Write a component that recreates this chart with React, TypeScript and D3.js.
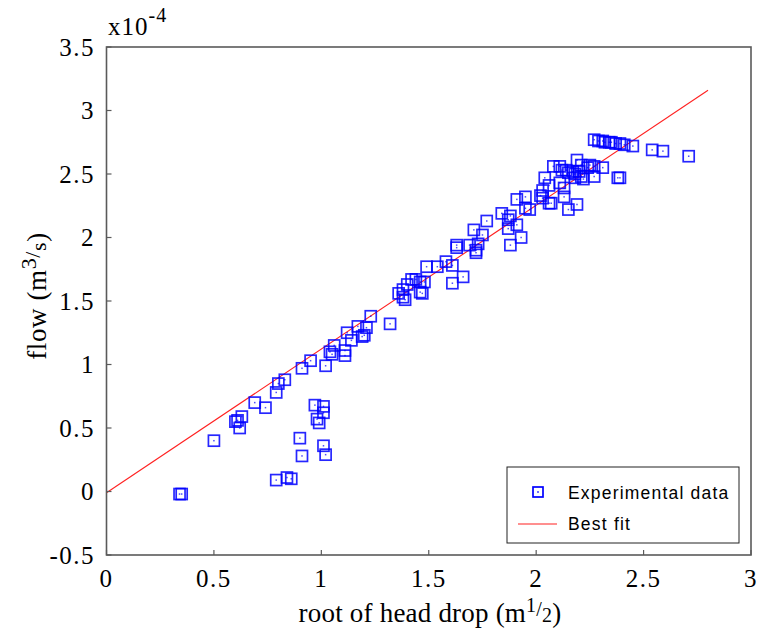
import React from "react";
import * as d3 from "d3";

// Measured flow vs. square root of head drop (flow in units of 1e-4 m^3/s)
const headRoot: number[] = [
  0.34, 0.35, 0.50, 0.60, 0.61, 0.62, 0.63, 0.69, 0.74, 0.79, 0.80, 0.83,
  0.90, 0.91, 0.79, 0.84, 0.86, 0.97, 1.01, 1.01, 0.98, 0.99, 1.01, 1.02,
  0.91, 0.95, 1.02, 1.04, 1.05, 1.06, 1.11, 1.11, 1.12, 1.14, 1.17, 1.19,
  1.20, 1.21, 1.23, 1.32, 1.36, 1.38, 1.40, 1.39, 1.38, 1.42, 1.44, 1.46,
  1.46, 1.47, 1.48, 1.49, 1.54, 1.58, 1.61, 1.61, 1.66,
  1.63, 1.63, 1.69, 1.71, 1.72, 1.72, 1.75, 1.73, 1.77, 1.84, 1.87, 1.88,
  1.87, 1.91, 1.88, 1.93, 1.91, 1.95, 1.95, 1.97, 2.02, 2.03, 2.03, 2.06,
  2.07, 2.04, 2.08, 2.06, 2.11, 2.13, 2.13, 2.15, 2.19, 2.11, 2.12, 2.15,
  2.14, 2.17, 2.18, 2.20, 2.21, 2.18, 2.22, 2.21, 2.24, 2.25, 2.27, 2.27,
  2.19, 2.31, 2.38, 2.39,
  2.27, 2.29, 2.31, 2.32, 2.34, 2.35, 2.37, 2.39, 2.41, 2.45, 2.54, 2.59,
  2.71,
];
const flow: number[] = [
  -0.02, -0.02, 0.40, 0.55, 0.56, 0.50, 0.59, 0.70, 0.66, 0.78, 0.85, 0.88,
  0.42, 0.28, 0.09, 0.11, 0.10, 0.68, 0.67, 0.62, 0.57, 0.54, 0.36, 0.29,
  0.97, 1.03, 0.99, 1.10, 1.08, 1.15, 1.11, 1.07, 1.25, 1.19, 1.30, 1.22,
  1.23, 1.29, 1.38, 1.32, 1.56, 1.59, 1.63, 1.51, 1.53, 1.67, 1.67, 1.65,
  1.57, 1.56, 1.65, 1.77, 1.77, 1.81, 1.78, 1.64, 1.69,
  1.92, 1.94, 1.94, 2.06, 1.90, 1.88, 2.02, 1.95, 2.13, 2.19, 2.14, 2.17,
  2.07, 2.10, 1.94, 2.00, 2.30, 2.32, 2.23, 2.22, 2.33, 2.37, 2.31, 2.27,
  2.27, 2.47, 2.56, 2.41, 2.43, 2.39, 2.32, 2.22, 2.26, 2.56, 2.53, 2.51,
  2.53, 2.52, 2.50, 2.52, 2.48, 2.47, 2.46, 2.57, 2.55, 2.57, 2.56, 2.48,
  2.61, 2.55, 2.47, 2.47,
  2.77, 2.76, 2.76, 2.75, 2.75, 2.75, 2.74, 2.74, 2.73, 2.72, 2.69, 2.68,
  2.64,
];

// Best-fit line end points
const fitX: number[] = [0, 2.8];
const fitY: number[] = [-0.01, 3.16];

const xTicks: number[] = [0, 0.5, 1, 1.5, 2, 2.5, 3];
const yTicks: number[] = [-0.5, 0, 0.5, 1, 1.5, 2, 2.5, 3, 3.5];

const W = 762;
const H = 634;
const left = 106.5;
const right = 751;
const top = 47;
const bottom = 555;

export default function App() {
  const x = d3.scaleLinear().domain([0, 3]).range([left, right]);
  const y = d3.scaleLinear().domain([-0.5, 3.5]).range([bottom, top]);

  const points = headRoot.map((h, i) => ({ h, q: flow[i] }));
  const fit = fitX.map((v, i) => [v, fitY[i]] as [number, number]);
  const line = d3
    .line<[number, number]>()
    .x((d) => x(d[0]))
    .y((d) => y(d[1]));

  const serif = "'Liberation Serif', 'Times New Roman', serif";
  const sans = "'Liberation Sans', Arial, sans-serif";
  const frame = "#5a5a5a";
  const blue = "#0000ff";
  const s = 11;

  return (
    <svg
      width={W}
      height={H}
      style={{ position: "absolute", left: 0, top: 0, background: "#fff" }}
    >
      <rect x={0} y={0} width={W} height={H} fill="#fff" />

      {/* best fit */}
      <path d={line(fit) || ""} fill="none" stroke="#ff2020" strokeWidth={1.1} />

      {/* measurements */}
      {points.map((p, i) => (
        <g key={i}>
          <rect
            x={x(p.h) - s / 2}
            y={y(p.q) - s / 2}
            width={s}
            height={s}
            fill="none"
            stroke={blue}
            strokeOpacity={0.85}
            strokeWidth={1.7}
          />
          <rect
            x={x(p.h) - 0.75}
            y={y(p.q) - 0.75}
            width={1.5}
            height={1.5}
            fill={blue}
            fillOpacity={0.7}
          />
        </g>
      ))}

      {/* frame */}
      <rect
        x={left}
        y={top}
        width={right - left}
        height={bottom - top}
        fill="none"
        stroke={frame}
        strokeWidth={1.6}
      />

      {/* x ticks */}
      {xTicks.map((t) => (
        <g key={"x" + t}>
          <line x1={x(t)} x2={x(t)} y1={bottom} y2={bottom - 5} stroke={frame} strokeWidth={1.2} />
          <text
            x={x(t)}
            y={587}
            textAnchor="middle"
            fontFamily={serif}
            fontSize={25}
            letterSpacing={1.5}
            fill="#000"
          >
            {String(t)}
          </text>
        </g>
      ))}

      {/* y ticks */}
      {yTicks.map((t) => (
        <g key={"y" + t}>
          <line x1={left} x2={left + 5} y1={y(t)} y2={y(t)} stroke={frame} strokeWidth={1.2} />
          <text
            x={95}
            y={y(t) + 8.5}
            textAnchor="end"
            fontFamily={serif}
            fontSize={25}
            letterSpacing={1.5}
            fill="#000"
          >
            {t === -0.5 ? "-0.5" : String(t)}
          </text>
        </g>
      ))}

      {/* exponent */}
      <text x={108} y={35} fontFamily={serif} fontSize={25} letterSpacing={1} fill="#000">
        x10
        <tspan dy={-13} fontSize={20}>-4</tspan>
      </text>

      {/* axis titles */}
      <text
        x={430}
        y={622}
        textAnchor="middle"
        fontFamily={serif}
        fontSize={27}
        letterSpacing={0.2}
        fill="#000"
      >
        root of head drop (m
        <tspan dy={-10} fontSize={20}>1</tspan>
        <tspan dy={4} fontSize={20}>/</tspan>
        <tspan dy={6} fontSize={20}>2</tspan>
        <tspan dy={0}>)</tspan>
      </text>

      <text
        transform="translate(46,296) rotate(-90)"
        textAnchor="middle"
        fontFamily={serif}
        fontSize={27}
        letterSpacing={0.6}
        fill="#000"
      >
        flow (m
        <tspan dy={-10} fontSize={22}>3</tspan>
        <tspan dy={4} fontSize={22}>/</tspan>
        <tspan dy={6} fontSize={22}>s</tspan>
        <tspan dy={0}>)</tspan>
      </text>

      {/* legend */}
      <g>
        <rect x={507} y={467} width={232} height={76} fill="#fff" stroke="#222" strokeWidth={1} />
        <rect x={538 - 5} y={492 - 5} width={10} height={10} fill="none" stroke={blue} strokeWidth={1.7} />
        <rect x={537.25} y={491.25} width={1.5} height={1.5} fill={blue} />
        <text x={568} y={499} fontFamily={sans} fontSize={17.5} letterSpacing={1.2} fill="#000">
          Experimental data
        </text>
        <line x1={518} x2={557} y1={524} y2={524} stroke="#ff2020" strokeWidth={1.2} />
        <text x={568} y={530} fontFamily={sans} fontSize={17.5} letterSpacing={1.2} fill="#000">
          Best fit
        </text>
      </g>
    </svg>
  );
}
